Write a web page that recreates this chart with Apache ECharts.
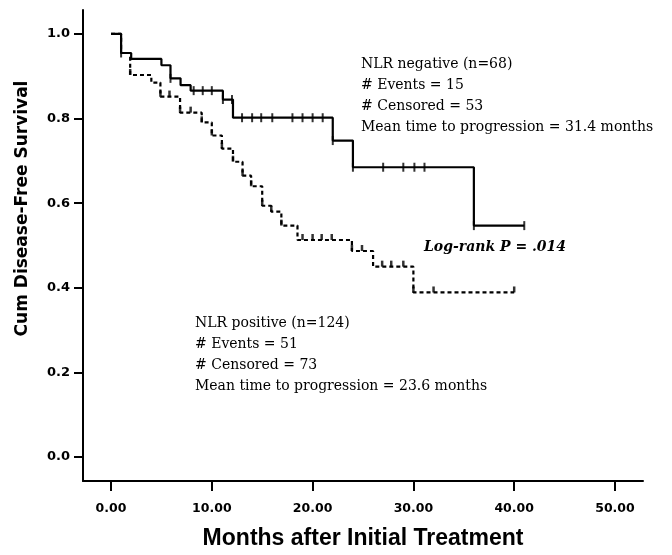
<!DOCTYPE html>
<html>
<head>
<meta charset="utf-8">
<script src="https://cdn.jsdelivr.net/npm/echarts@6/dist/echarts.min.js"></script>
<style>html,body{margin:0;padding:0;background:#fff}#c{width:672px;height:555px}</style>
</head>
<body>
<div id="c"></div>
<script>
// ---- data ----
const xTicks = [0, 10, 20, 30, 40, 50];
const yTicks = [0, 0.2, 0.4, 0.6, 0.8, 1.0];

// NLR negative (solid): event times and survival after each step
const negTimes = [0, 1.0, 2.0, 5.0, 5.9, 6.9, 7.9, 11.1, 12.1, 22.0, 24.0, 36.0, 41.0];
const negSurv  = [1.0, 0.955, 0.941, 0.926, 0.895, 0.879, 0.866, 0.845, 0.802, 0.748, 0.685, 0.547, 0.547];
const negCensor = [1.0, 5.9, 8.2, 9.1, 10.0, 11.1, 12.0, 13.0, 14.0, 14.9, 16.0, 18.0, 19.0, 20.0, 21.0, 22.0, 24.0, 27.0, 29.0, 30.1, 31.1, 36.0, 41.0];

// NLR positive (dashed)
const posTimes = [0, 1.0, 1.9, 4.0, 4.9, 6.85, 9.0, 10.0, 11.0, 12.1, 13.05, 13.9, 15.0, 15.9, 16.9, 18.5, 23.9, 26.0, 30.0, 40.0];
const posSurv  = [1.0, 0.955, 0.903, 0.885, 0.852, 0.814, 0.791, 0.760, 0.729, 0.698, 0.665, 0.640, 0.594, 0.580, 0.547, 0.513, 0.487, 0.450, 0.389, 0.389];
const posCensor = [1.9, 4.9, 5.8, 6.85, 7.9, 9.0, 10.0, 11.0, 12.1, 13.05, 13.9, 15.0, 15.9, 16.9, 19.0, 20.0, 20.9, 21.9, 23.9, 24.9, 26.9, 27.8, 29.0, 30.0, 32.0, 40.0];

const negText = ['NLR negative (n=68)', '# Events = 15', '# Censored = 53', 'Mean time to progression = 31.4 months'];
const posText = ['NLR positive (n=124)', '# Events = 51', '# Censored = 73', 'Mean time to progression = 23.6 months'];
const pText = 'Log-rank P = .014';

// ---- helpers ----
function survAt(times, surv, t) {
  let s = surv[0];
  for (let i = 0; i < times.length; i++) if (times[i] <= t + 1e-9) s = surv[i];
  return s;
}
const zip = (a, b) => a.map((v, i) => [v, b[i]]);

const chart = echarts.init(document.getElementById('c'), null, {renderer: 'canvas'});
const sans = 'DejaVu Sans, Verdana, sans-serif';
const arial = 'Liberation Sans, Arial, sans-serif';
const serif = 'DejaVu Serif, serif';

chart.setOption({
  animation: false,
  backgroundColor: '#fff',
  grid: {left: 83, right: 29, top: 10, bottom: 66, containLabel: false},
  xAxis: {
    type: 'value', min: -2.78, max: 52.78,
    name: 'Months after Initial Treatment', nameLocation: 'middle', nameGap: 46,
    nameTextStyle: {color: '#000', fontFamily: arial, fontWeight: 'bold', fontSize: 23},
    axisLine: {show: true, onZero: false, lineStyle: {color: '#000', width: 2}},
    axisTick: {show: true, length: 10, inside: false, customValues: xTicks, lineStyle: {color: '#000', width: 2}},
    axisLabel: {customValues: xTicks, margin: 21, formatter: v => v.toFixed(2), color: '#000', fontFamily: sans, fontWeight: 'bold', fontSize: 12.5},
    splitLine: {show: false}
  },
  yAxis: {
    type: 'value', min: -0.0566, max: 1.0566,
    name: 'Cum Disease-Free Survival', nameLocation: 'middle', nameGap: 52, nameRotate: 90,
    nameTextStyle: {color: '#000', fontFamily: sans, fontWeight: 'bold', fontSize: 17, padding: [0, 0, 0, 74]},
    axisLine: {show: true, onZero: false, lineStyle: {color: '#000', width: 2}},
    axisTick: {show: true, length: 9, customValues: yTicks, lineStyle: {color: '#000', width: 2}},
    axisLabel: {customValues: yTicks, margin: 13, formatter: v => v.toFixed(1), color: '#000', fontFamily: sans, fontWeight: 'bold', fontSize: 13},
    splitLine: {show: false}
  },
  series: [
    {
      name: 'NLR negative', type: 'line', step: 'end', symbol: 'none',
      data: zip(negTimes, negSurv),
      lineStyle: {color: '#000', width: 2.2}
    },
    {
      name: 'NLR positive', type: 'line', step: 'end', symbol: 'none',
      data: zip(posTimes, posSurv),
      lineStyle: {color: '#000', width: 2.2, type: [4, 3]}
    },
    {
      name: 'NLR negative censored', type: 'scatter', symbol: 'rect', symbolSize: [2, 9],
      itemStyle: {color: '#000'},
      data: negCensor.map(t => [t, survAt(negTimes, negSurv, t)])
    },
    {
      name: 'NLR positive censored', type: 'scatter', symbol: 'rect', symbolSize: [2.5, 6], symbolOffset: [0, -3],
      itemStyle: {color: '#000'},
      data: posCensor.map(t => [t, survAt(posTimes, posSurv, t)])
    }
  ],
  graphic: [
    {type: 'text', left: 361, top: 54, style: {text: negText.join('\n'), font: '14px ' + serif, fill: '#000', lineHeight: 21}},
    {type: 'text', left: 195, top: 313, style: {text: posText.join('\n'), font: '14px ' + serif, fill: '#000', lineHeight: 21}},
    {type: 'text', left: 424, top: 240, style: {text: pText, font: 'italic bold 14px ' + serif, fill: '#000'}}
  ]
});
</script>
</body>
</html>
